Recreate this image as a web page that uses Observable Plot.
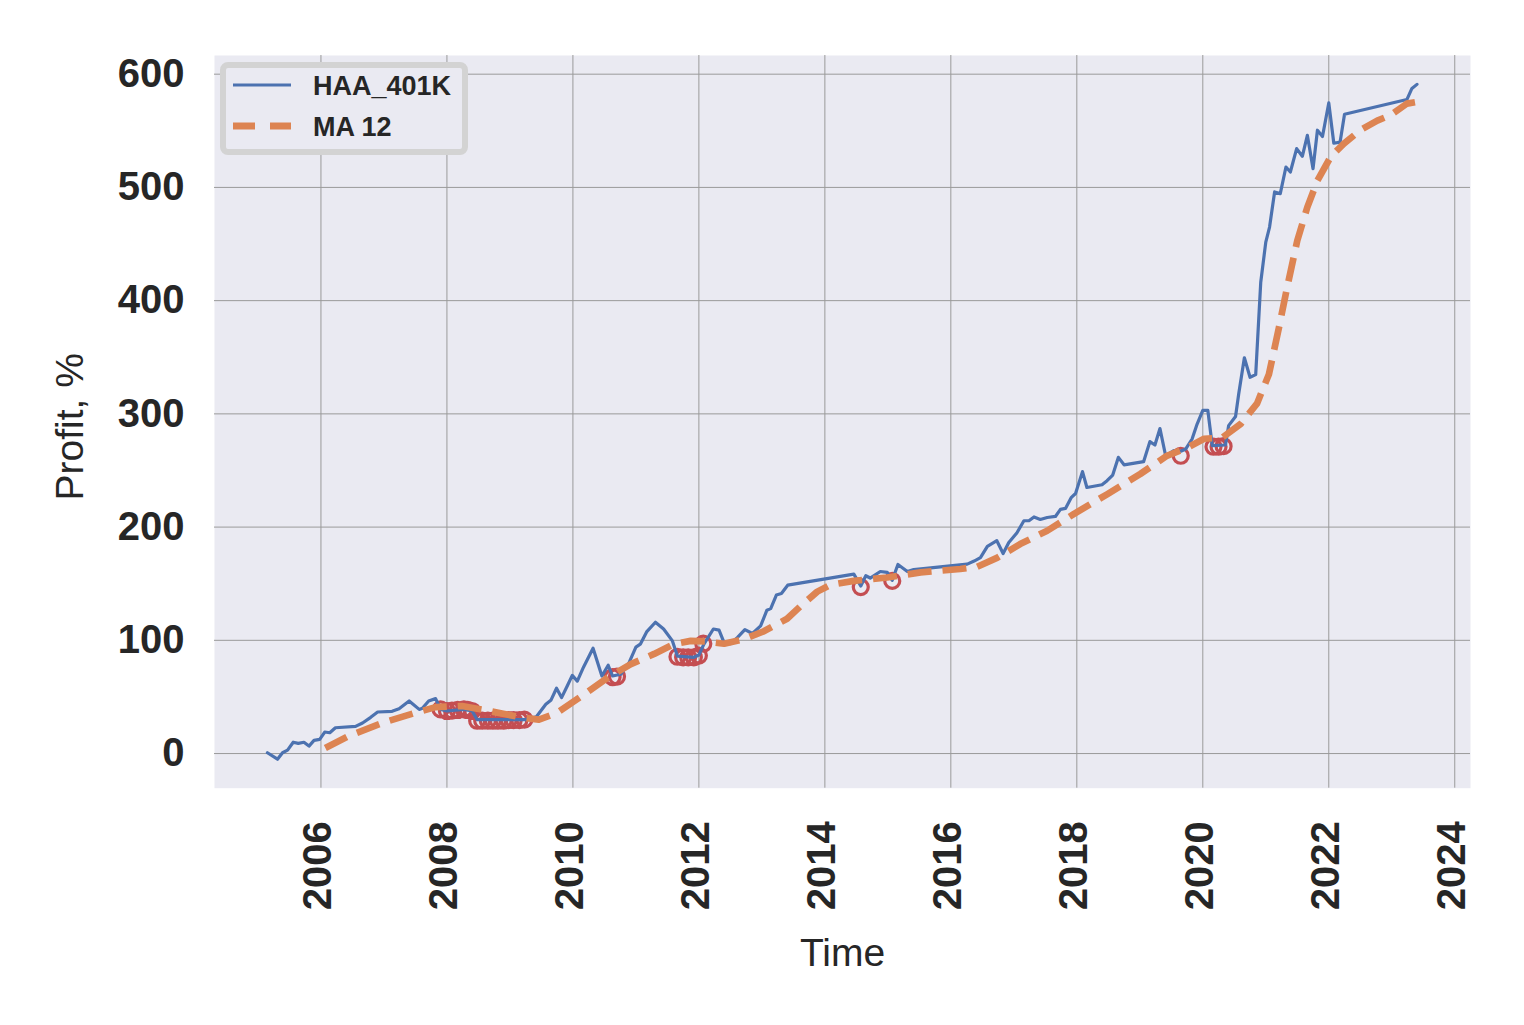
<!DOCTYPE html>
<html><head><meta charset="utf-8">
<script src="https://cdn.jsdelivr.net/npm/d3@7"></script>
<script src="https://cdn.jsdelivr.net/npm/@observablehq/plot@0.6"></script>
<style>
body{margin:0;background:#fff;}
#wrap{position:relative;width:1524px;height:1025px;font-family:"Liberation Sans",Arial,sans-serif;background:#fff;}
#legend{position:absolute;left:220px;top:62px;width:248px;height:93px;box-sizing:border-box;border:6px solid #d3d3d3;border-radius:8px;background:#eaeaf2;}
#legend svg{position:absolute;left:0;top:0;}
#legend .lab{position:absolute;left:87px;font-weight:bold;font-size:27px;color:#262626;line-height:27px;white-space:nowrap;}
</style></head>
<body><div id="wrap"><div id="chart"></div>
<div id="legend">
<svg width="80" height="81"><line x1="7" x2="65" y1="17" y2="17" stroke="#4c72b0" stroke-width="3"/><line x1="7" x2="65" y1="58" y2="58" stroke="#dd8452" stroke-width="7" stroke-dasharray="22,15"/></svg>
<div class="lab" id="l1" style="top:5px">HAA_401K</div>
<div class="lab" id="l2" style="top:46px">MA 12</div>
</div></div>
<script>
// HAA_401K profit series (decimal year, %)
const haaYears = [2005.15,2005.31,2005.39,2005.47,2005.56,2005.64,2005.73,2005.81,2005.89,2005.98,
2006.06,2006.14,2006.23,2006.55,2006.66,2006.79,2006.9,2007.13,2007.24,2007.4,2007.56,2007.61,2007.71,2007.82,2007.9,
2008.0,2008.27,2008.4,2008.48,2009.25,2009.42,2009.57,2009.65,2009.74,2009.82,2009.91,2009.99,
2010.07,2010.17,2010.32,2010.46,2010.56,2010.63,2010.76,2010.89,2011.0,2011.07,2011.17,2011.31,2011.44,2011.58,2011.66,2011.92,
2012.0,2012.08,2012.23,2012.32,2012.4,2012.5,2012.61,2012.73,2012.85,2012.98,2013.08,2013.14,2013.23,2013.31,2013.41,
2014.46,2014.57,2014.65,2014.72,2014.88,2014.99,2015.07,2015.16,2015.31,2015.41,
2016.26,2016.37,2016.47,2016.58,2016.73,2016.83,2016.92,2017.05,2017.16,2017.24,2017.32,2017.42,2017.53,2017.66,2017.74,2017.82,2017.91,2017.98,
2018.09,2018.16,2018.4,2018.48,2018.57,2018.66,2018.75,2019.06,2019.16,2019.24,2019.32,2019.41,2019.54,2019.65,2019.73,2019.83,2019.91,
2020.0,2020.08,2020.15,2020.36,2020.41,2020.52,2020.57,2020.66,2020.75,2020.84,2020.92,2021.0,2021.06,2021.14,2021.23,2021.32,2021.39,2021.49,2021.58,2021.66,2021.75,2021.82,2021.9,
2022.0,2022.08,2022.18,2022.25,2023.24,2023.32,2023.4];
const haaProfit = [0.7,-5,0.7,3,10,9,10,6.6,11.6,12.5,
19,18.4,22.8,24,27,32,36.7,37.3,39.6,46.4,39,40,46.4,48.5,39,
37.6,39,37.6,30,30,32.5,43.5,47,57.7,49.4,59.7,69,
64,76.5,93,68.5,78,68.5,70,80,94,96.6,107.4,116,110,99.5,86,85,
87,96.6,110,109,98,97,102.4,109.5,106,112.7,126.6,128,140,141.3,148.7,
158.5,148,157,155,160.8,160,153,167,160.8,162.5,
167.3,170,173,183,188,176.7,186.4,195,205.6,205.6,209,206.7,208.5,209.4,215.6,216.5,226,229.7,
249,235,237.4,241,246,261.6,255,257.8,275.5,272.5,287,263,267.5,267,269,277.8,291,
303,303,272,272.5,289.6,297.6,317.6,349.5,332.3,334.7,416.3,451.7,465,496,494.5,518,513.6,534.3,527.5,546,516.6,550.5,545,
574.6,539,540,564.6,577.6,587.4,591];

// MA 12 series
const maYears = [2006.07,2006.44,2006.97,2007.5,2007.82,2008.24,2008.67,2009.2,2009.46,2009.75,2010.17,2010.55,2010.92,2011.29,2011.6,2011.87,2012.1,2012.4,2012.71,2013.03,2013.4,2013.61,2013.88,2014.09,2014.46,2014.99,2015.52,2016.15,2016.42,2016.74,2017.1,2017.53,2017.95,2018.48,2019.01,2019.43,2019.75,2020.02,2020.31,2020.6,2020.86,2021.05,2021.21,2021.34,2021.5,2021.66,2021.82,2022.03,2022.24,2022.5,2022.77,2022.98,2023.24,2023.4];
const maProfit = [5,15.5,27,36,41,42,37.6,31.7,30,36,52,67,79,88,96.6,99.5,99,97,101,108,119,130,143,149,152.5,155.5,160,163,165,173,185,196.8,211.5,229,247,263,270,278,279,291,309,335,376.5,412,453,482.6,506,527,538.7,550.5,559,563.8,574,575.5];

// Signal points (circles)
const sigYears = [2007.9,2008.0,2008.08,2008.17,2008.27,2008.33,2008.4,2008.48,2008.56,2008.65,2008.73,2008.81,2008.9,2008.98,2009.06,2009.15,2009.23,2010.63,2010.7,2011.66,2011.75,2011.83,2011.92,2012.0,2012.07,2014.57,2015.07,2019.65,2020.17,2020.25,2020.33];
const sigProfit = [39,37.6,38,38.5,39,38.5,37.6,29,29,29,29,29,29,29.5,29.5,29.5,30,67.5,68,85.5,85,85,85,86.5,97,147,152.5,263,271,271,271.5];

const xTicks = [2006,2008,2010,2012,2014,2016,2018,2020,2022,2024];
const yTicks = [0,100,200,300,400,500,600];

const haa = haaYears.map((t,i)=>({t, v: haaProfit[i]}));
const ma = maYears.map((t,i)=>({t, v: maProfit[i]}));
const sig = sigYears.map((t,i)=>({t, v: sigProfit[i]}));

const chart = Plot.plot({
  width: 1524, height: 1025,
  marginLeft: 214, marginRight: 54, marginTop: 55, marginBottom: 237.3,
  style: {fontFamily: '"Liberation Sans", Arial, sans-serif', background: "#fff", color: "#262626"},
  x: {domain: [2004.31, 2024.25]},
  y: {domain: [-30.6, 616.5]},
  marks: [
    Plot.frame({fill: "#eaeaf2", stroke: null}),
    Plot.gridX(xTicks, {stroke: "#9a9a9a", strokeOpacity: 1, strokeWidth: 1}),
    Plot.gridY(yTicks, {stroke: "#9a9a9a", strokeOpacity: 1, strokeWidth: 1}),
    Plot.axisY(yTicks, {tickSize: 0, tickPadding: 30, fontSize: 40, fontWeight: "bold", fill: "#262626", label: null}),
    Plot.axisX(xTicks, {tickSize: 0, tickPadding: 33, tickRotate: -90, dx: -3, fontSize: 40, fontWeight: "bold", fill: "#262626", label: null, tickFormat: d => String(d)}),
    Plot.text(["Time"], {frameAnchor: "bottom", dy: 165, fontSize: 39, fill: "#262626", lineAnchor: "middle"}),
    Plot.text(["Profit, %"], {frameAnchor: "left", dx: -144, dy: 5, rotate: -90, textAnchor: "middle", lineAnchor: "middle", fontSize: 39, fill: "#262626"}),
    Plot.dot(sig, {x: "t", y: "v", r: 7.5, stroke: "#c44e52", strokeWidth: 3.2, fill: "none"}),
    Plot.line(haa, {x: "t", y: "v", stroke: "#4c72b0", strokeWidth: 3.2}),
    Plot.line(ma, {x: "t", y: "v", stroke: "#dd8452", strokeWidth: 6.7, strokeDasharray: "24,11", strokeLinecap: "butt", curve: "linear"})
  ]
});
document.getElementById("chart").appendChild(chart);
</script>
</body></html>
